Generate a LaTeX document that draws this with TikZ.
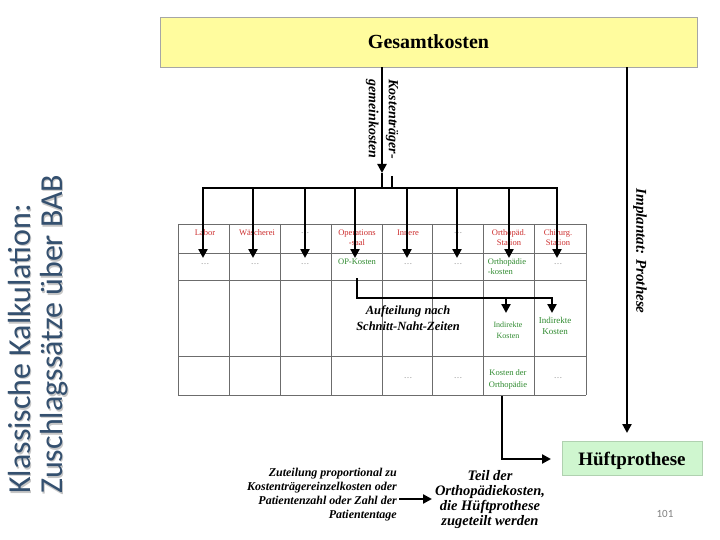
\documentclass[tikz,border=0pt]{standalone}
\usepackage{fontspec}
\setmainfont{Liberation Serif}
\newfontfamily\carl{Carlito}
\usetikzlibrary{arrows.meta}
\definecolor{ybg}{HTML}{FFFC9E}
\definecolor{gbg}{HTML}{CFF6CF}
\definecolor{hred}{HTML}{CC2E2E}
\definecolor{cgreen}{HTML}{2F8A2F}
\definecolor{titleblue}{HTML}{34506F}
\begin{document}
\begin{tikzpicture}[x=1pt,y=-1pt,
  thk/.style={line width=2.6pt},
  arr/.style={thk,-{Triangle[length=9pt,width=9pt]}},
  gridln/.style={draw=gray!85!black, line width=0.7pt},
  hdr/.style={text=hred, font=\fontsize{8.5}{10}\selectfont, align=center, inner sep=0pt},
  grn/.style={text=cgreen, font=\fontsize{8.5}{10}\selectfont, align=center, inner sep=0pt},
  dts/.style={text=gray, font=\fontsize{8.5}{10}\selectfont, inner sep=0pt},
  bi/.style={font=\bfseries\itshape, inner sep=0pt},
  ttl/.style={font=\carl\fontsize{32}{32}\selectfont, rotate=90, anchor=base west, inner sep=0pt},
]
\useasboundingbox (0,0) rectangle (720,540);

% title
\node[ttl, text=gray!45] (t1s) at (31.5,495.5) {Klassische Kalkulation:};
\node[ttl, text=gray!45] (t2s) at (63.5,495.5) {Zuschlagssätze über BAB};
\node[ttl, text=titleblue] (t1) at (30,494) {Klassische Kalkulation:};
\node[ttl, text=titleblue] (t2) at (62,494) {Zuschlagssätze über BAB};

% top box
\node[fill=ybg, draw=gray!70, line width=0.6pt, minimum width=537pt, minimum height=50pt,
      font=\bfseries\fontsize{20}{22}\selectfont, inner sep=0pt] (gk) at (428.5,42) {Gesamtkosten};

% green box
\node[fill=gbg, draw=gbg!85!black, line width=0.4pt, minimum width=140pt, minimum height=34pt,
      inner sep=0pt] (hb) at (632,458) {};
\node[font=\bfseries\fontsize{19}{21}\selectfont, inner sep=0pt] (hbt) at (632,461) {Hüftprothese};

% rotated labels
\node[bi, font=\bfseries\itshape\fontsize{14}{20}\selectfont, rotate=-90, align=center] (ktg) at (382,119)
  {Kostenträger-\\gemeinkosten};
\node[bi, font=\bfseries\itshape\fontsize{15}{17}\selectfont, rotate=-90] (impl) at (640,251)
  {Implantat: Prothese};

% table grid
\foreach \y in {224,253,280,356,395} \draw[gridln] (178,\y) -- (586,\y);
\foreach \x in {178,229,280,331,382,432,483,534,586} \draw[gridln] (\x,224) -- (\x,395);

% header row
\node[hdr] (h1) at (205,233) {Labor};
\node[hdr] (h2) at (257,233) {Wäscherei};
\node[dts] (h3) at (305,233) {…};
\node[hdr] (h4) at (357,238) {Operations\\-saal};
\node[hdr] (h5) at (408,233) {Innere};
\node[dts] (h6) at (458,233) {…};
\node[hdr] (h7) at (509,238) {Orthopäd.\\Station};
\node[hdr] (h8) at (558,238) {Chirurg.\\Station};

% second row
\node[dts] (r1) at (205,264) {…};
\node[dts] (r2) at (255,264) {…};
\node[dts] (r3) at (305,264) {…};
\node[grn] (r4) at (357,262) {OP-Kosten};
\node[dts] (r5) at (408,264) {…};
\node[dts] (r6) at (458,264) {…};
\node[grn, align=left] (r7) at (507,267) {Orthopädie\\-kosten};
\node[dts] (r8) at (558,264) {…};

% third row
\node[grn, font=\fontsize{8}{11}\selectfont] (i7) at (508,330) {Indirekte\\Kosten};
\node[grn, font=\fontsize{9}{11}\selectfont] (i8) at (555,326) {Indirekte\\Kosten};
\node[bi, font=\bfseries\itshape\fontsize{12.5}{16}\selectfont, align=center] (auf) at (408,318)
  {Aufteilung nach\\Schnitt-Naht-Zeiten};

% fourth row
\node[dts] (q5) at (408,378) {…};
\node[dts] (q6) at (458,378) {…};
\node[grn, font=\fontsize{8.5}{12}\selectfont] (q7) at (508,379) {Kosten der\\Orthopädie};
\node[dts] (q8) at (558,378) {…};

% top arrows and bus
\coordinate (ktip) at (382,173);
\coordinate (kst) at (392,176);
\foreach \i/\x in {1/203,2/253,3/305,4/355,5/407,6/457,7/509,8/557} {
  \coordinate (bus\i) at (\x,188);
  \coordinate (tip\i) at (\x,258);
}
\draw[arr] (gk.south -| ktip) -- (ktip);
\draw[thk] (ktip) -- (ktip |- bus1);
\draw[thk] (kst) -- (kst |- bus1);
\draw[thk, line cap=rect] (bus1) -- (bus8);
\foreach \i in {1,...,8} \draw[arr] (bus\i) -- (tip\i);

% OP-Kosten distribution
\coordinate (op0) at (357,278);
\coordinate (op1) at (357,298);
\coordinate (optipA) at (506,313);
\coordinate (optipB) at (552,313);
\draw[arr] (op0) -- (op1) -| (optipB);
\draw[arr] (optipA |- op1) -- (optipA);

% Orthopaedie to Hueftprothese
\coordinate (ko0) at (502,396);
\coordinate (kotip) at (551,459);
\draw[arr] (ko0) |- (kotip);

% Implantat line
\coordinate (rtip) at (627,433);
\draw[arr] (gk.south -| rtip) -- (rtip);

% bottom texts
\node[bi, font=\bfseries\itshape\fontsize{12}{14}\selectfont, align=right, anchor=east] (zt) at (397,495)
  {Zuteilung proportional zu\\Kostenträgereinzelkosten oder\\Patientenzahl oder Zahl der\\Patiententage};
\node[bi, font=\bfseries\itshape\fontsize{14.5}{15}\selectfont, align=center] (teil) at (490,500)
  {Teil der\\Orthopädiekosten,\\die Hüftprothese\\zugeteilt werden};
\coordinate (za) at (399,499);
\coordinate (zb) at (432,499);
\draw[arr] (za) -- (zb);

\node[font=\carl\fontsize{11}{12}\selectfont, text=gray, inner sep=0pt] (pg) at (665,514) {101};
\end{tikzpicture}
\end{document}
